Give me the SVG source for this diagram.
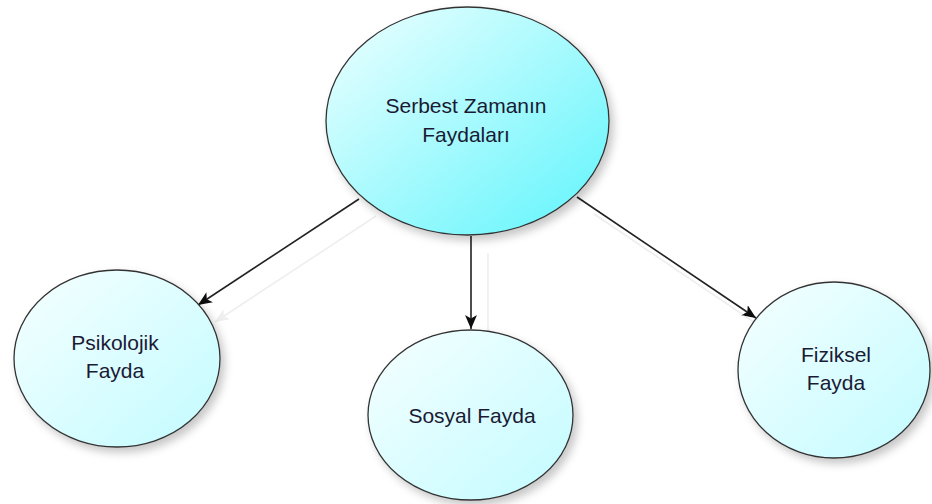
<svg xmlns="http://www.w3.org/2000/svg" width="932" height="504" viewBox="0 0 932 504">
  <defs>
    <linearGradient id="gMain" x1="0" y1="0" x2="1" y2="1">
      <stop offset="0" stop-color="#f0ffff"/>
      <stop offset="1" stop-color="#5ef5fc"/>
    </linearGradient>
    <linearGradient id="gSub" x1="0" y1="0" x2="1" y2="1">
      <stop offset="0" stop-color="#f6ffff"/>
      <stop offset="1" stop-color="#c2fbff"/>
    </linearGradient>
    <filter id="shadow" x="-20%" y="-20%" width="150%" height="150%">
      <feDropShadow dx="4" dy="5" stdDeviation="4" flood-color="#000" flood-opacity="0.22"/>
    </filter>
    <filter id="lineShadow" x="-20%" y="-20%" width="150%" height="150%">
      <feOffset in="SourceAlpha" dx="17" dy="17" result="off"/>
      <feFlood flood-color="#eeeeee"/>
      <feComposite in2="off" operator="in" result="sh"/>
      <feMerge>
        <feMergeNode in="sh"/>
        <feMergeNode in="SourceGraphic"/>
      </feMerge>
    </filter>
    <marker id="arrow" markerUnits="userSpaceOnUse" markerWidth="16" markerHeight="14" refX="14" refY="6" orient="auto">
      <path d="M0,0 L14,6 L0,12 L3.5,6 Z" fill="#111"/>
    </marker>
  </defs>
  <style>
    .node { stroke: #333; stroke-width: 1.3; }
    .label { font-family: "Liberation Sans", Arial, sans-serif; font-size: 21px; fill: #1a1a34; text-anchor: middle; }
    .conn { stroke: #222; stroke-width: 1.6; fill: none; marker-end: url(#arrow); }
  </style>

  <g id="connectors" filter="url(#lineShadow)">
    <line class="conn" x1="359" y1="199" x2="198" y2="305"/>
    <line class="conn" x1="471" y1="236" x2="471" y2="329"/>
    <line class="conn" x1="577" y1="197" x2="756" y2="318"/>
  </g>

  <g id="node-main">
    <ellipse class="node" cx="467.5" cy="121" rx="141.5" ry="114" fill="url(#gMain)" filter="url(#shadow)"/>
    <text class="label" x="466" y="113">Serbest Zamanın</text>
    <text class="label" x="466" y="142">Faydaları</text>
  </g>

  <g id="node-psikolojik">
    <ellipse class="node" cx="117" cy="358.5" rx="103" ry="88.5" fill="url(#gSub)" filter="url(#shadow)"/>
    <text class="label" x="115" y="350">Psikolojik</text>
    <text class="label" x="115" y="378">Fayda</text>
  </g>

  <g id="node-sosyal">
    <ellipse class="node" cx="470.5" cy="415" rx="102.5" ry="85" fill="url(#gSub)" filter="url(#shadow)"/>
    <text class="label" x="472" y="423">Sosyal Fayda</text>
  </g>

  <g id="node-fiziksel">
    <ellipse class="node" cx="834" cy="370" rx="96" ry="88" fill="url(#gSub)" filter="url(#shadow)"/>
    <text class="label" x="836" y="362">Fiziksel</text>
    <text class="label" x="836" y="390">Fayda</text>
  </g>
</svg>
